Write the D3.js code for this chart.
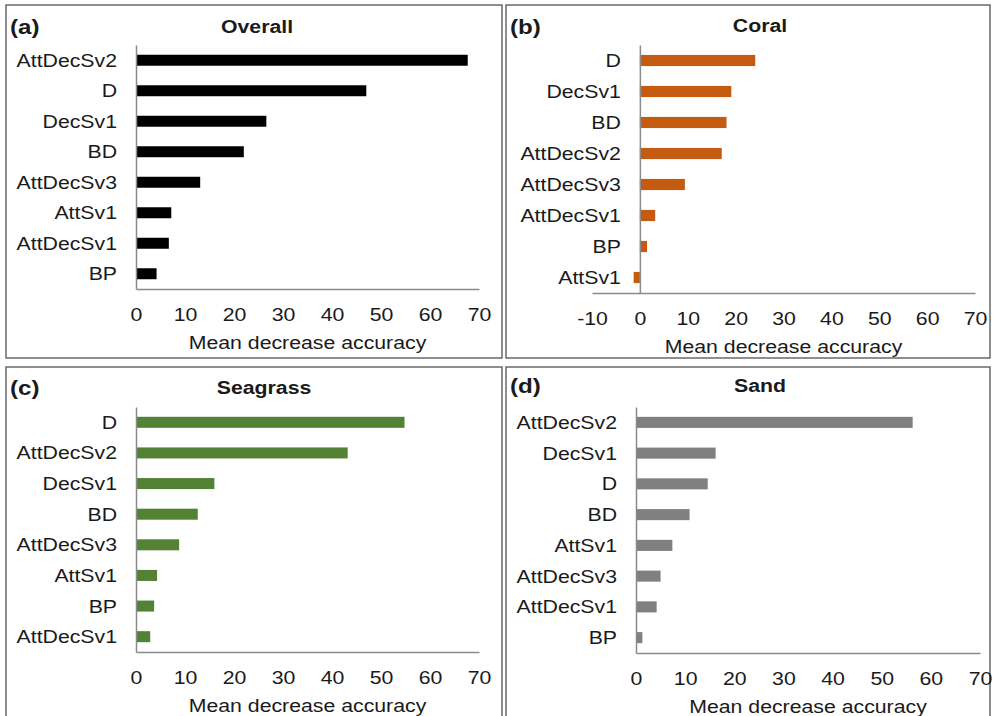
<!DOCTYPE html>
<html>
<head>
<meta charset="utf-8">
<script src="https://cdn.jsdelivr.net/npm/d3@7/dist/d3.min.js"></script>
<style>
  html, body { margin: 0; padding: 0; background: #fff; }
  svg { display: block; }
  text { font-family: "Liberation Sans", Arial, sans-serif; fill: #1a1a1a; }
</style>
</head>
<body>
<svg id="chart" width="993" height="716"></svg>
<script>
// Variable importance (mean decrease accuracy) per class
const overallCats = ["AttDecSv2", "D", "DecSv1", "BD", "AttDecSv3", "AttSv1", "AttDecSv1", "BP"];
const overallVals = [67.7, 47.0, 26.6, 22.0, 13.1, 7.2, 6.7, 4.2];

const coralCats = ["D", "DecSv1", "BD", "AttDecSv2", "AttDecSv3", "AttDecSv1", "BP", "AttSv1"];
const coralVals = [24.1, 19.1, 18.1, 17.1, 9.4, 3.2, 1.5, -1.3];

const seagrassCats = ["D", "AttDecSv2", "DecSv1", "BD", "AttDecSv3", "AttSv1", "BP", "AttDecSv1"];
const seagrassVals = [54.8, 43.2, 16.0, 12.6, 8.8, 4.3, 3.7, 2.9];

const sandCats = ["AttDecSv2", "DecSv1", "D", "BD", "AttSv1", "AttDecSv3", "AttDecSv1", "BP"];
const sandVals = [56.3, 16.2, 14.6, 10.9, 7.4, 5.0, 4.2, 1.3];

const ticksMain = [0, 10, 20, 30, 40, 50, 60, 70];
const ticksCoral = [-10, 0, 10, 20, 30, 40, 50, 60, 70];

const panelLetters = ["(a)", "(b)", "(c)", "(d)"];
const panelTitles = ["Overall", "Coral", "Seagrass", "Sand"];

// Text is drawn slightly widened horizontally
const SX = 1.15;

const svg = d3.select("#chart");
svg.append("rect").attr("width", 993).attr("height", 716).attr("fill", "#fff");

const panels = [
  { cats: overallCats, vals: overallVals, ticks: ticksMain, color: "#000000",
    box: [6, 5, 496, 353], x: [136, 479], y: [45, 289], letter: [10, 27], title: [257, 27] },
  { cats: coralCats, vals: coralVals, ticks: ticksCoral, color: "#c55a11",
    box: [506, 5, 484, 353], x: [592, 975], y: [45, 293], letter: [510, 27], title: [760, 26] },
  { cats: seagrassCats, vals: seagrassVals, ticks: ticksMain, color: "#548235",
    box: [6, 367, 496, 360], x: [136, 479], y: [407, 652], letter: [10, 388], title: [264, 388] },
  { cats: sandCats, vals: sandVals, ticks: ticksMain, color: "#808080",
    box: [506, 367, 484, 360], x: [636, 980], y: [407, 653], letter: [510, 386], title: [760, 386] }
];

function stretchedText(parent, x, y, str) {
  return parent.append("text")
    .attr("transform", `translate(${x},${y}) scale(${SX},1)`)
    .text(str);
}

panels.forEach((p, i) => {
  const g = svg.append("g");

  // panel frame
  g.append("rect")
    .attr("x", p.box[0]).attr("y", p.box[1])
    .attr("width", p.box[2]).attr("height", p.box[3])
    .attr("fill", "none").attr("stroke", "#5f5f5f").attr("stroke-width", 1.4);

  const x = d3.scaleLinear()
    .domain([p.ticks[0], p.ticks[p.ticks.length - 1]])
    .range(p.x);

  const y = d3.scaleBand()
    .domain(p.cats)
    .range(p.y)
    .paddingInner(0.64)
    .paddingOuter(0.32);

  const data = p.cats.map((c, k) => ({ cat: c, val: p.vals[k] }));

  // bars
  g.selectAll("rect.bar").data(data).enter().append("rect")
    .attr("class", "bar")
    .attr("x", d => x(Math.min(0, d.val)))
    .attr("width", d => Math.abs(x(d.val) - x(0)))
    .attr("y", d => y(d.cat))
    .attr("height", y.bandwidth())
    .attr("fill", p.color);

  // x axis (plain hyphen for negative ticks)
  const xAxis = g.append("g")
    .attr("transform", `translate(0,${p.y[1]})`)
    .call(d3.axisBottom(x).tickValues(p.ticks).tickSize(0).tickSizeOuter(0).tickFormat(d => String(d)));
  xAxis.select(".domain").attr("stroke", "#8a8a8a").attr("stroke-width", 1.5);
  xAxis.selectAll(".tick text")
    .attr("y", 0).attr("dy", 0)
    .attr("transform", `translate(0,32) scale(${SX},1)`)
    .style("font-size", "18.5px")
    .style("font-family", '"Liberation Sans", Arial, sans-serif')
    .attr("fill", "#1a1a1a");

  // y axis on the zero line
  const yAxis = g.append("g")
    .attr("transform", `translate(${x(0)},0)`)
    .call(d3.axisLeft(y).tickSize(0).tickSizeOuter(0).tickPadding(19));
  yAxis.select(".domain").attr("stroke", "#8a8a8a").attr("stroke-width", 1.5);
  yAxis.selectAll(".tick text")
    .attr("x", -19 / SX)
    .attr("dy", "0.35em")
    .attr("transform", `scale(${SX},1)`)
    .style("font-size", "18.5px")
    .style("font-family", '"Liberation Sans", Arial, sans-serif')
    .attr("fill", "#1a1a1a");

  // axis title
  stretchedText(g, (p.x[0] + p.x[1]) / 2, p.y[1] + 60, "Mean decrease accuracy")
    .attr("text-anchor", "middle")
    .style("font-size", "18.5px");

  // panel title
  stretchedText(g, p.title[0], p.title[1], panelTitles[i])
    .attr("text-anchor", "middle")
    .attr("dy", "0.35em")
    .style("font-size", "18.5px")
    .style("font-weight", "bold");

  // panel letter
  stretchedText(g, p.letter[0], p.letter[1], panelLetters[i])
    .attr("dy", "0.35em")
    .style("font-size", "21px")
    .style("font-weight", "bold");
});
</script>
</body>
</html>
